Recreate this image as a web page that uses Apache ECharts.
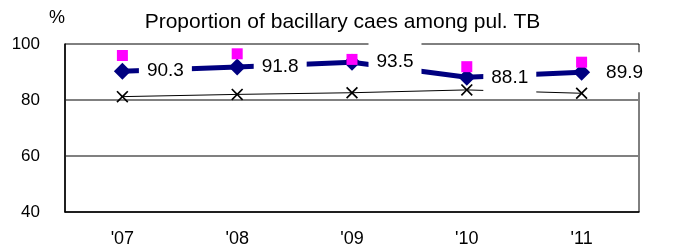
<!DOCTYPE html>
<html>
<head>
<meta charset="utf-8">
<script src="https://cdn.jsdelivr.net/npm/echarts@6/dist/echarts.min.js"></script>
<style>
	html, body { margin: 0; padding: 0; background: #fff; }
	#chart { width: 685px; height: 249px; }
</style>
</head>
<body>
<div id="chart"></div>
<script>
	// data
	var years = ["'07", "'08", "'09", "'10", "'11"];
	var bacillary = [90.3, 91.8, 93.5, 88.1, 89.9];
	var upper = [95.9, 96.5, 94.5, 91.9, 93.5];
	var lower = [81.2, 82.0, 82.6, 83.6, 82.4];
	var yTicks = [40, 60, 80, 100];

	var font = 'Liberation Sans, Arial, sans-serif';
	var crossPath = 'path://M0,1L1,0L5,4L9,0L10,1L6,5L10,9L9,10L5,6L1,10L0,9L4,5Z';

	var chart = echarts.init(document.getElementById('chart'));
	chart.setOption({
		animation: false,
		title: {
			text: 'Proportion of bacillary caes among pul. TB',
			left: 'center',
			top: 7,
			textStyle: {
				fontFamily: font,
				fontSize: 21,
				fontWeight: 'normal',
				color: '#000'
			}
		},
		grid: {
			left: 65,
			right: 46,
			top: 44,
			bottom: 37,
			show: true,
			borderColor: '#000',
			borderWidth: 1
		},
		xAxis: {
			type: 'category',
			data: years,
			axisLine: { lineStyle: { color: '#000', width: 1.5 } },
			axisTick: { inside: true, length: 6, lineStyle: { color: '#555' } },
			axisLabel: { margin: 18, fontFamily: font, fontSize: 18, color: '#000' }
		},
		yAxis: {
			type: 'value',
			min: yTicks[0],
			max: yTicks[yTicks.length - 1],
			interval: 20,
			name: '%',
			nameLocation: 'end',
			nameGap: 26,
			nameTextStyle: { fontFamily: font, fontSize: 18, color: '#000', align: 'right', verticalAlign: 'middle' },
			axisLine: { show: true, lineStyle: { color: '#000', width: 1.5 } },
			axisTick: { show: false },
			axisLabel: { margin: 25, fontFamily: font, fontSize: 17, color: '#000', padding: [0, 0, 6, 0] },
			splitLine: {
				lineStyle: { color: ['transparent', '#808080', '#808080', 'transparent'], width: 2 }
			}
		},
		series: [
			{
				name: 'lower',
				type: 'line',
				z: 2,
				data: lower,
				symbol: crossPath,
				symbolSize: 12,
				itemStyle: { color: '#000' },
				lineStyle: { color: '#000', width: 1 }
			},
			{
				name: 'bacillary',
				type: 'line',
				z: 3,
				data: bacillary,
				symbol: 'diamond',
				symbolSize: 17,
				itemStyle: { color: '#000080' },
				lineStyle: { color: '#000080', width: 5 },
				label: {
					show: true,
					position: 'right',
					distance: 8,
					fontFamily: font,
					fontSize: 19,
					lineHeight: 20,
					color: '#000',
					backgroundColor: '#fff',
					padding: [10, 8]
				}
			},
			{
				name: 'upper',
				type: 'line',
				z: 4,
				data: upper,
				symbol: 'rect',
				symbolSize: 11,
				itemStyle: { color: '#ff00ff' },
				lineStyle: { width: 0, opacity: 0 }
			}
		]
	});
</script>
</body>
</html>
